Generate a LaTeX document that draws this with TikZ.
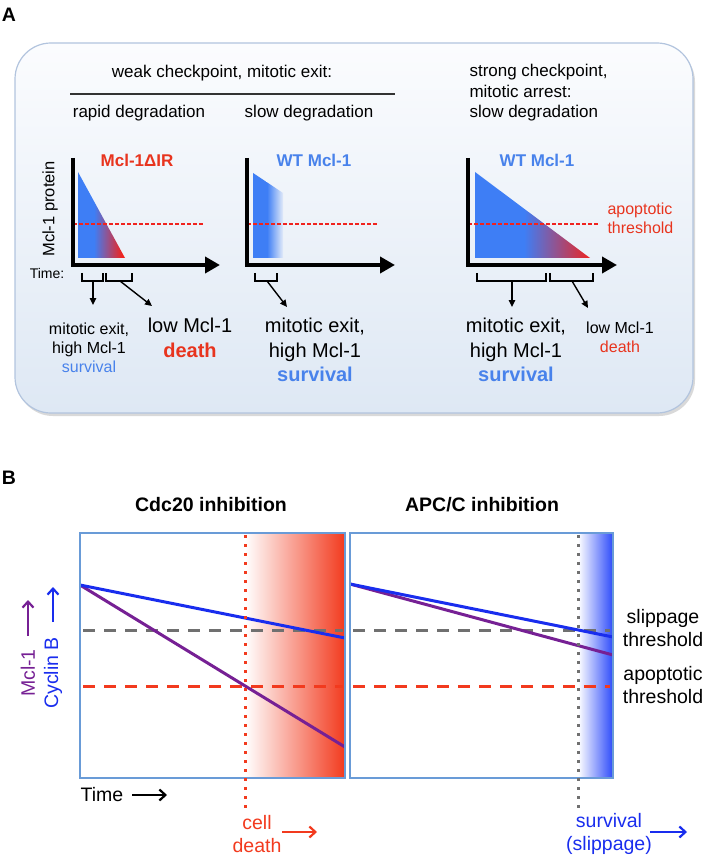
\documentclass[tikz,border=0pt]{standalone}
\usepackage{fontspec}
\setmainfont{Liberation Sans}
\usetikzlibrary{arrows.meta}

\definecolor{ablue}{RGB}{62,126,245}
\definecolor{ared}{RGB}{240,35,30}
\definecolor{tred}{RGB}{232,52,30}
\definecolor{tblue}{RGB}{72,130,235}
\definecolor{lblue}{RGB}{25,45,238}
\definecolor{lpurp}{RGB}{118,32,148}
\definecolor{frameblue}{RGB}{105,155,215}
\definecolor{boxedge}{RGB}{178,196,222}
\definecolor{bgtop}{RGB}{251,252,254}
\definecolor{bgbot}{RGB}{222,232,244}
\definecolor{bgmid}{RGB}{237,242,249}
\definecolor{dgray}{RGB}{112,112,112}
\definecolor{bred}{RGB}{242,58,30}
\definecolor{sblue}{RGB}{45,75,250}

\newcommand\fhead{\fontsize{17}{20.5}\selectfont}
\newcommand\fsmall{\fontsize{16}{19}\selectfont}
\newcommand\fbig{\fontsize{20}{24.5}\selectfont}
\newcommand\fbee{\fontsize{19.5}{22.5}\selectfont}

\begin{document}
\begin{tikzpicture}[x=1pt,y=-1pt,
    axisline/.style={line width=4pt,line join=miter,-{Triangle[length=15pt,width=16pt]}},
    brace/.style={line width=1.4pt,line join=miter},
    pointer/.style={line width=1.4pt,-{Triangle[length=7pt,width=6.5pt]}},
    thr/.style={draw=ared,line width=1.3pt,dash pattern=on 4pt off 2pt},
    curve/.style={line width=3pt},
    bdash/.style={line width=3pt,dash pattern=on 12pt off 9pt},
    bdot/.style={line width=3pt,dash pattern=on 3pt off 6pt},
    barrow/.style={line width=2.2pt,-{Straight Barb[length=6pt,width=11pt]}}]
  \useasboundingbox (0,0) rectangle (709,858);

  % ---------- A ----------
  \node[font=\fbee\bfseries] (la) at (9,15) {A};
  \fill[black!15,rounded corners=36pt] (17,46) rectangle (695,416);
  \shadedraw[top color=bgtop,bottom color=bgbot,draw=boxedge,line width=1.2pt,
    rounded corners=36pt] (15,43) rectangle (693,413);

  \node[font=\fhead] (weak) at (222,73) {weak checkpoint, mitotic exit:};
  \draw[line width=1.6pt,black!80] (70,94) -- (395,94);
  \node[font=\fhead] (rapid) at (139,113) {rapid degradation};
  \node[font=\fhead] (slow) at (309,113) {slow degradation};
  \node[font=\fhead,anchor=west,align=left] (strong) at (466,93)
    {strong checkpoint,\\mitotic arrest:\\slow degradation};

  % protein curves
  \begin{scope}
    \clip (78,172) -- (125,258) -- (78,258) -- cycle;
    \fill[ablue] (77,170) rectangle (94,259);
    \shade[left color=ablue,right color=ared] (94,170) rectangle (122,259);
    \fill[ared] (122,170) rectangle (126,259);
  \end{scope}
  \begin{scope}
    \clip (253,173) -- (283,193) -- (283,258) -- (253,258) -- cycle;
    \fill[ablue] (252,170) rectangle (267,259);
    \shade[left color=ablue,right color=bgmid] (267,170) rectangle (284,259);
  \end{scope}
  \begin{scope}
    \clip (475,172) -- (590,258) -- (475,258) -- cycle;
    \fill[ablue] (474,170) rectangle (524,259);
    \shade[left color=ablue,right color=ared] (524,170) rectangle (591,259);
  \end{scope}

  \draw[thr] (73,224) -- (204,224);
  \draw[thr] (247,224) -- (378,224);
  \draw[thr] (468,224) -- (598,224);

  \foreach \x/\xe in {73/220, 247/395, 468/617}
    \draw[axisline] (\x,158) -- (\x,265) -- (\xe,265);

  \node[font=\fhead\bfseries,text=tred] (mut) at (137,160) {Mcl-1ΔIR};
  \node[font=\fhead\bfseries,text=tblue] (wt1) at (314,160) {WT Mcl-1};
  \node[font=\fhead\bfseries,text=tblue] (wt2) at (537,160) {WT Mcl-1};
  \node[font=\fontsize{16.5}{19}\selectfont,rotate=90] (prot) at (50,209) {Mcl-1 protein};
  \node[font=\fontsize{14}{16}\selectfont] (time) at (47,273) {Time:};
  \node[font=\fsmall,text=tred,anchor=west,align=left] (apo) at (604,218)
    {apoptotic\\threshold};

  % brackets and pointers
  \foreach \xa/\xb in {82/103, 106/132, 255/277, 477/546, 550/593}
    \draw[brace] (\xa,273) -- (\xa,281) -- (\xb,281) -- (\xb,273);
  \foreach \i/\xs/\xt/\yt in {1/93/93/305, 2/120/152/306, 3/267/287/307,
                             4/512/512/307, 5/572/588/308} {
    \coordinate (bs\i) at (\xs,281);
    \coordinate (be\i) at (\xt,\yt);
    \draw[pointer] (bs\i) -- (be\i);
  }

  \node[font=\fsmall,align=center] (out1) at (89,348)
    {mitotic exit,\\high Mcl-1\\\textcolor{tblue}{survival}};
  \node[font=\fbig,align=center] (out2) at (190,338)
    {low Mcl-1\\\textcolor{tred}{\bfseries death}};
  \node[font=\fbig,align=center] (out3) at (315,350)
    {mitotic exit,\\high Mcl-1\\\textcolor{tblue}{\bfseries survival}};
  \node[font=\fbig,align=center] (out4) at (516,350)
    {mitotic exit,\\high Mcl-1\\\textcolor{tblue}{\bfseries survival}};
  \node[font=\fsmall,align=center] (out5) at (620,337.5)
    {low Mcl-1\\\textcolor{tred}{death}};

  % ---------- B ----------
  \node[font=\fbee\bfseries] (lb) at (9,478) {B};
  \node[font=\fbee\bfseries] (cdc) at (211,505) {Cdc20 inhibition};
  \node[font=\fbee\bfseries] (apc) at (482,505) {APC/C inhibition};

  \shade[left color=white,middle color=bred!50!white,right color=bred]
    (245,533) rectangle (345,778);
  \shade[left color=white,middle color=sblue!60!white,right color=sblue]
    (578,533) rectangle (613,778);

  \draw[bdash,dgray] (83,630) -- (343,630);
  \draw[bdash,dgray] (353,630) -- (610,630);
  \draw[bdash,bred] (83,686) -- (343,686);
  \draw[bdash,bred] (353,686) -- (610,686);

  \draw[curve,lpurp] (80,585) -- (345,747);
  \draw[curve,lblue] (80,585) -- (345,638);
  \draw[curve,lpurp] (350,584) -- (613,655);
  \draw[curve,lblue] (350,584) -- (613,637);

  \draw[frameblue,line width=1.3pt] (80,533) rectangle (345,778);
  \draw[frameblue,line width=1.3pt] (350,533) rectangle (613,778);

  \draw[bdot,bred] (245,535) -- (245,813);
  \draw[bdot,dgray] (578,535) -- (578,813);

  \node[font=\fbee,rotate=90,text=lpurp] (mcl) at (28,673) {Mcl-1};
  \node[font=\fbee,rotate=90,text=lblue] (cyc) at (53,673) {Cyclin B};
  \coordinate (mcla) at (28,636);
  \coordinate (mclb) at (28,600);
  \coordinate (cyca) at (53,622);
  \coordinate (cycb) at (53,587);
  \draw[barrow,lpurp] (mcla) -- (mclb);
  \draw[barrow,lblue] (cyca) -- (cycb);

  \node[font=\fbee] (tb) at (102,795) {Time};
  \coordinate (tba) at (132,795);
  \coordinate (tbb) at (167,795);
  \draw[barrow] (tba) -- (tbb);

  \node[font=\fbee,align=center,text=bred] (death) at (257,834) {cell\\death};
  \coordinate (dea) at (282,832);
  \coordinate (deb) at (317,832);
  \draw[barrow,bred] (dea) -- (deb);

  \node[font=\fbee,align=center,text=lblue] (surv) at (609,834) {survival\\(slippage)};
  \coordinate (sua) at (650,832);
  \coordinate (sub) at (687,832);
  \draw[barrow,lblue] (sua) -- (sub);

  \node[font=\fbee,align=center] (slip) at (663,628) {slippage\\threshold};
  \node[font=\fbee,align=center] (apop) at (663,685) {apoptotic\\threshold};
\end{tikzpicture}
\end{document}
